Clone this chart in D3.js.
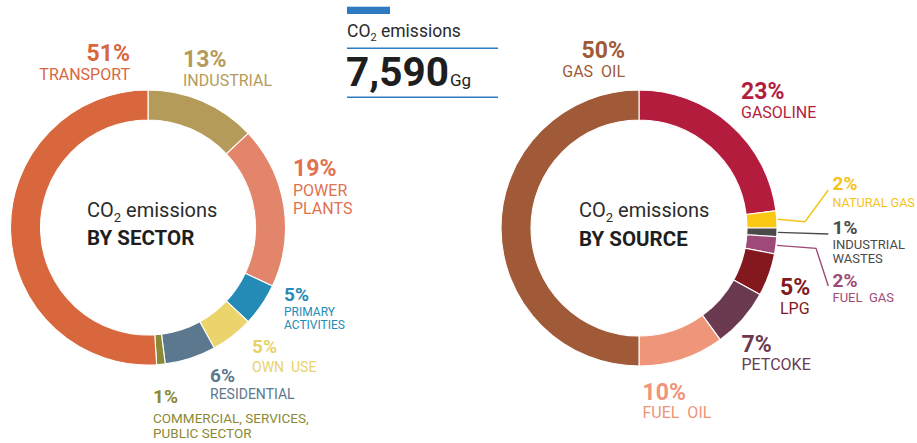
<!DOCTYPE html>
<html>
<head>
<meta charset="utf-8">
<script src="https://cdn.jsdelivr.net/npm/d3@7"></script>
<style>
  html, body { margin: 0; padding: 0; background: #fff; }
  svg { display: block; font-family: Roboto, "Noto Sans", Arial, sans-serif; }
</style>
</head>
<body>
<svg id="chart" width="917" height="443"></svg>
<script>
// ---- Data ----
const totalEmissions = 7590;          // Gg of CO2
const totalUnit = "Gg";

// Emissions by sector (%), clockwise from 12 o'clock
const sectorNames = ["INDUSTRIAL", "POWER PLANTS", "PRIMARY ACTIVITIES", "OWN USE", "RESIDENTIAL", "COMMERCIAL, SERVICES, PUBLIC SECTOR", "TRANSPORT"];
const sectorValues = [13, 19, 5, 5, 6, 1, 51];

// Emissions by source (%), clockwise from 12 o'clock
const sourceNames = ["GASOLINE", "NATURAL GAS", "INDUSTRIAL WASTES", "FUEL GAS", "LPG", "PETCOKE", "FUEL OIL", "GAS OIL"];
const sourceValues = [23, 2, 1, 2, 5, 7, 10, 50];

// ---- Styles ----
const sectorColors = ["#B59B5A", "#E2856B", "#238BB6", "#EAD46B", "#5C788E", "#8A8A35", "#D9673D"];
const sectorTextColors = ["#B59B5A", "#E0724F", "#238BB6", "#E8D26A", "#5C788E", "#8A8A35", "#D9673D"];
const sourceColors = ["#B41C3E", "#FBC914", "#4A4A4A", "#9E4A78", "#83181F", "#6C3A50", "#EE957A", "#A05A37"];
const sourceTextColors = ["#B41C3E", "#F6C21A", "#4A4A4A", "#9E4A78", "#83181F", "#6C3A50", "#EE957A", "#A05A37"];

// Label placement per slice: x, baseline of percentage, anchor, sizes, line positions
const sectorLabels = [
  { x: 183, y: 66.7, anchor: "start", pct: 23, name: 16, lines: ["INDUSTRIAL"], ly: [86] },
  { x: 293, y: 176, anchor: "start", pct: 23, name: 16, lines: ["POWER", "PLANTS"], ly: [196, 214] },
  { x: 284, y: 300.5, anchor: "start", pct: 19, name: 12, lines: ["PRIMARY", "ACTIVITIES"], ly: [315.5, 329] },
  { x: 252, y: 353, anchor: "start", pct: 19, name: 14, lines: ["OWN  USE"], ly: [371.5] },
  { x: 210, y: 381.5, anchor: "start", pct: 19, name: 14, lines: ["RESIDENTIAL"], ly: [399.3] },
  { x: 153, y: 403, anchor: "start", pct: 19, name: 13.5, lines: ["COMMERCIAL, SERVICES,", "PUBLIC SECTOR"], ly: [423.3, 438.3] },
  { x: 130, y: 61, anchor: "end", pct: 23, name: 16, lines: ["TRANSPORT"], ly: [80] }
];
const sourceLabels = [
  { x: 741, y: 99.3, anchor: "start", pct: 23, name: 16, lines: ["GASOLINE"], ly: [118.3] },
  { x: 832.5, y: 189.5, anchor: "start", pct: 19, name: 12.6, lines: ["NATURAL GAS"], ly: [206.5], leader: [[805, 221.7], [828.3, 190]] },
  { x: 832.5, y: 234, anchor: "start", pct: 19, name: 13, lines: ["INDUSTRIAL", "WASTES"], ly: [249.3, 262.7], leader: [[828.3, 234]] },
  { x: 832.5, y: 286.7, anchor: "start", pct: 19, name: 13, lines: ["FUEL  GAS"], ly: [301.7], leader: [[816, 248.3], [828.3, 286]] },
  { x: 780, y: 295, anchor: "start", pct: 23, name: 16, lines: ["LPG"], ly: [314.3] },
  { x: 741.5, y: 351.7, anchor: "start", pct: 23, name: 16, lines: ["PETCOKE"], ly: [370] },
  { x: 642.5, y: 400, anchor: "start", pct: 23, name: 16, lines: ["FUEL  OIL"], ly: [418.3] },
  { x: 625, y: 58.3, anchor: "end", pct: 23, name: 16, lines: ["GAS  OIL"], ly: [77.3] }
];

const svg = d3.select("#chart");
svg.append("rect").attr("width", 917).attr("height", 443).attr("fill", "#fff");

const pie = d3.pie().sort(null).value(d => d);

function donut(opts) {
  const g = svg.append("g").attr("transform", `translate(${opts.cx},${opts.cy})`);
  const arc = d3.arc().innerRadius(opts.r0).outerRadius(opts.r1);
  const arcs = pie(opts.values);

  g.selectAll("path.slice")
    .data(arcs)
    .join("path")
    .attr("class", "slice")
    .attr("d", arc)
    .attr("fill", (d, i) => opts.colors[i])
    .attr("stroke", "#fff")
    .attr("stroke-width", 1.1);

  // centre caption
  const cap = g.append("text")
    .attr("x", opts.capX)
    .attr("y", -11)
    .attr("fill", "#2b2b2b")
    .attr("font-size", 20);
  cap.append("tspan").text("CO");
  cap.append("tspan").attr("font-size", 13).attr("dy", 5).text("2");
  cap.append("tspan").attr("dy", -5).text(" emissions");
  g.append("text")
    .attr("x", opts.capX)
    .attr("y", 17.5)
    .attr("fill", "#1e1e1e")
    .attr("font-size", 20.5)
    .attr("font-weight", 700)
    .text(opts.caption);

  // leader lines from slice edge to label
  arcs.forEach((d, i) => {
    const lab = opts.labels[i];
    if (!lab.leader) return;
    const mid = (d.startAngle + d.endAngle) / 2;
    const start = [opts.cx + (opts.r1 + 1) * Math.sin(mid), opts.cy - (opts.r1 + 1) * Math.cos(mid)];
    svg.append("path")
      .attr("d", d3.line()([start, ...lab.leader]))
      .attr("fill", "none")
      .attr("stroke", opts.textColors[i])
      .attr("stroke-width", 1.4);
  });

  // value + name labels
  arcs.forEach((d, i) => {
    const lab = opts.labels[i];
    const col = opts.textColors[i];
    svg.append("text")
      .attr("x", lab.x).attr("y", lab.y)
      .attr("text-anchor", lab.anchor)
      .attr("font-size", lab.pct)
      .attr("font-weight", 700)
      .attr("fill", col)
      .text(d3.format("d")(d.data) + "%");
    lab.lines.forEach((ln, k) => {
      svg.append("text")
        .attr("x", lab.x).attr("y", lab.ly[k])
        .attr("text-anchor", lab.anchor)
        .attr("font-size", lab.name)
        .attr("fill", col)
        .attr("xml:space", "preserve")
        .style("white-space", "pre")
        .text(ln);
    });
  });
}

donut({
  cx: 148, cy: 227.5, r0: 107.5, r1: 137.5,
  values: sectorValues, colors: sectorColors, textColors: sectorTextColors,
  labels: sectorLabels, caption: "BY SECTOR", capX: -61
});

donut({
  cx: 639, cy: 228, r0: 108, r1: 138,
  values: sourceValues, colors: sourceColors, textColors: sourceTextColors,
  labels: sourceLabels, caption: "BY SOURCE", capX: -60
});

// ---- Total emissions box ----
const blue = "#2E7BC1";
const hx = 347, hw = 151;
svg.append("rect").attr("x", hx).attr("y", 6.7).attr("width", 43).attr("height", 7.3).attr("fill", blue);
const t1 = svg.append("text").attr("x", hx).attr("y", 37).attr("font-size", 17.5).attr("fill", "#2b2b2b");
t1.append("tspan").text("CO");
t1.append("tspan").attr("font-size", 11).attr("dy", 4).text("2");
t1.append("tspan").attr("dy", -4).text(" emissions");
svg.append("line").attr("x1", hx).attr("x2", hx + hw).attr("y1", 48.3).attr("y2", 48.3)
  .attr("stroke", blue).attr("stroke-width", 1.5);
const t2 = svg.append("text").attr("x", hx - 1).attr("y", 86).attr("fill", "#1e1e1e");
t2.append("tspan").attr("font-size", 40.5).attr("font-weight", 700).text(d3.format(",")(totalEmissions));
t2.append("tspan").attr("font-size", 17).attr("dx", 1).text(totalUnit);
svg.append("line").attr("x1", hx).attr("x2", hx + hw).attr("y1", 97.3).attr("y2", 97.3)
  .attr("stroke", blue).attr("stroke-width", 1.5);
</script>
</body>
</html>
